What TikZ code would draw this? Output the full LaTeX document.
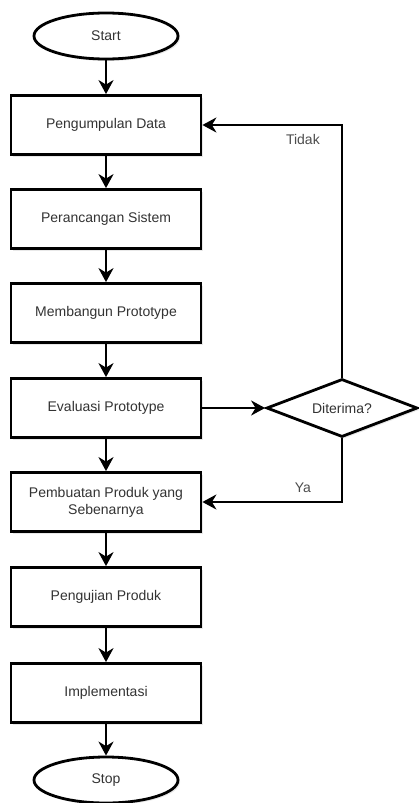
\documentclass[tikz,border=0pt]{standalone}
\usepackage{fontspec}
\setmainfont{Liberation Sans}
\usetikzlibrary{shapes.geometric,arrows.meta,shadows}
\tikzset{
  bayang/.style={drop shadow={opacity=.18, shadow xshift=2pt, shadow yshift=-2pt}},
  proses/.style={draw, rectangle, line width=2.8pt, minimum width=190pt, minimum height=59pt, fill=white, bayang, align=center, text=black!80},
  terminal/.style={draw, ellipse, line width=2.8pt, minimum width=144pt, minimum height=46pt, inner sep=0pt, fill=white, bayang, text=black!80},
  keputusan/.style={draw, diamond, aspect=2.6, line width=2.8pt, minimum width=151pt, minimum height=58pt, inner sep=0pt, fill=white, bayang, text=black!80},
  panah/.style={line width=2.8pt, -{Stealth[length=14pt,width=15pt,inset=4.5pt]}},
  ket/.style={text=black!70}
}
\begin{document}
\begin{tikzpicture}[x=1pt, y=-1pt, font=\fontsize{14}{17}\selectfont]
	\useasboundingbox (0,0) rectangle (419,803);
	\node[terminal] (start) at (106,36) {Start};
	\node[proses] (data) at (106,125) {Pengumpulan Data};
	\node[proses] (rancang) at (106,219) {Perancangan Sistem};
	\node[proses] (bangun) at (106,313) {Membangun Prototype};
	\node[proses] (evaluasi) at (106,408) {Evaluasi Prototype};
	\node[proses] (produk) at (106,502) {Pembuatan Produk yang\\Sebenarnya};
	\node[proses] (uji) at (106,597) {Pengujian Produk};
	\node[proses] (impl) at (106,693) {Implementasi};
	\node[terminal] (stop) at (106,780) {Stop};
	\node[keputusan] (terima) at (342,408) {Diterima?};
	
	\draw[panah](start)--(data);
	\draw[panah](data)--(rancang);
	\draw[panah](rancang)--(bangun);
	\draw[panah](bangun)--(evaluasi);
	\draw[panah](evaluasi)--(produk);
	\draw[panah](produk)--(uji);
	\draw[panah](uji)--(impl);
	\draw[panah](impl)--(stop);
	\draw[panah](evaluasi)--(terima);
	\draw[panah](terima.north)|-(data.east)node[pos=.64, below=5pt, ket]{Tidak};
	\draw[panah](terima.south)|-(produk.east)node[pos=.64, above=5pt, ket]{Ya};
	
\end{tikzpicture}
\end{document}
